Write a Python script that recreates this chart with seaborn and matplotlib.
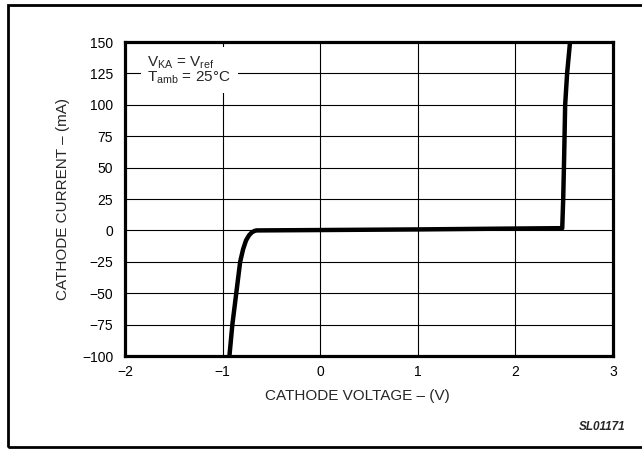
import matplotlib as mpl
mpl.use('Agg')
import matplotlib.pyplot as plt
import seaborn as sb
import pandas as pd
from matplotlib.patches import Rectangle

# cathode voltage (V) vs cathode current (mA)
voltage = [-0.93, -0.90, -0.86, -0.82, -0.79, -0.76, -0.73, -0.70, -0.67, -0.65,
           0.0, 1.0, 2.0, 2.48, 2.49, 2.50, 2.51, 2.53, 2.56]
current = [-100, -75, -50, -25, -15, -8, -4, -1.5, -0.3, 0,
           0.3, 0.8, 1.5, 1.8, 25, 60, 100, 125, 150]

xticks = [-2, -1, 0, 1, 2, 3]
yticks = [-100, -75, -50, -25, 0, 25, 50, 75, 100, 125, 150]

sb.set_style('white')
plt.rcParams['font.family'] = ['Liberation Sans', 'DejaVu Sans']
plt.rcParams['mathtext.fontset'] = 'custom'
plt.rcParams['mathtext.rm'] = 'Liberation Sans'

df = pd.DataFrame({'v': voltage, 'i': current})

fig = plt.figure(figsize=(6.42, 4.49), dpi=100)
ax = fig.add_axes([0.1947, 0.2071, 0.7601, 0.6993])

ax.set_xlim(-2, 3)
ax.set_ylim(-100, 150)
ax.set_xticks(xticks)
ax.set_yticks(yticks)
ax.set_xticklabels([str(t).replace('-', '\u2212') for t in xticks])
ax.set_yticklabels([str(t).replace('-', '\u2212') for t in yticks])
ax.tick_params(length=0, labelsize=10, colors='black')
ax.tick_params(axis='y', pad=8.5)
ax.tick_params(axis='x', pad=6.5)
ax.grid(True, color='black', linewidth=0.8)
ax.set_axisbelow(True)
for s in ax.spines.values():
    s.set_visible(True)
    s.set_color('black')
    s.set_linewidth(2.3)

sb.lineplot(data=df, x='v', y='i', sort=False, color='black', linewidth=3.2,
            ax=ax, zorder=3)

ax.set_xlabel('CATHODE VOLTAGE \u2013 (V)', fontsize=11, va='center')
ax.set_ylabel('CATHODE CURRENT \u2013 (mA)', fontsize=11, va='center')
ax.xaxis.set_label_coords(0.477, -0.126)
ax.yaxis.set_label_coords(-0.127, 0.5)

ax.text(-1.77, 140.5, r'V$_{\mathrm{KA}}$ = V$_{\mathrm{ref}}$' + '\n' + r'T$_{\mathrm{amb}}$ = 25°C',
        fontsize=11, va='top', ha='left', linespacing=0.92, zorder=4,
        bbox=dict(facecolor='white', edgecolor='none', pad=5))

fig.text(0.975, 0.035, 'SL01171', fontsize=8.5, fontweight='bold', style='italic',
         ha='right', va='bottom')

# outer frame (left, top, bottom; right edge runs off the page)
fig.patches.append(Rectangle((8 / 642, 2 / 449), 1.0, 442 / 449, transform=fig.transFigure,
                             fill=False, edgecolor='black', linewidth=2.0, clip_on=False))

fig.savefig('out.png', dpi=100)
